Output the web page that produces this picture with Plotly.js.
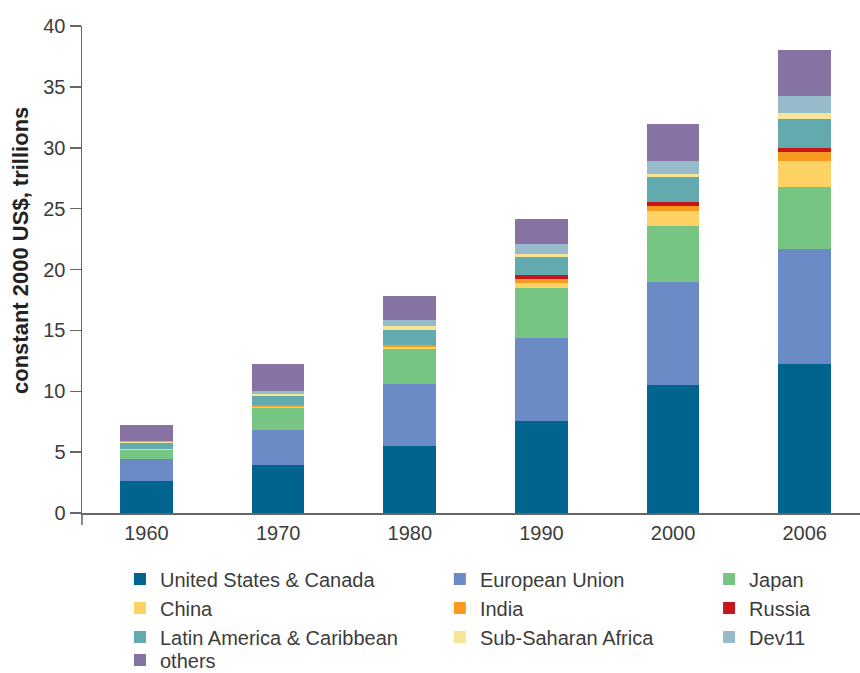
<!DOCTYPE html>
<html>
<head>
<meta charset="utf-8">
<script src="https://cdn.plot.ly/plotly-3.0.1.min.js"></script>
<style>html,body{margin:0;padding:0;background:#fff;}#chart{width:860px;height:673px;}</style>
</head>
<body>
<div id="chart"></div>
<script>
var years = ["1960", "1970", "1980", "1990", "2000", "2006"];

var usCanada      = [2.63, 3.94, 5.50, 7.56, 10.51, 12.24];
var europeanUnion = [1.81, 2.87, 5.09, 6.82, 8.46, 9.45];
var japan         = [0.74, 1.81, 2.87, 4.11, 4.60, 5.09];
var china         = [0.04, 0.11, 0.16, 0.41, 1.23, 2.14];
var india         = [0.05, 0.14, 0.16, 0.33, 0.41, 0.74];
var russia        = [0.00, 0.00, 0.00, 0.33, 0.33, 0.33];
var latinAmerica  = [0.49, 0.76, 1.23, 1.48, 2.05, 2.38];
var subSaharan    = [0.06, 0.16, 0.33, 0.25, 0.25, 0.49];
var dev11         = [0.06, 0.22, 0.49, 0.82, 1.07, 1.40];
var others        = [1.35, 2.22, 1.97, 2.05, 3.04, 3.78];

var seriesNames = ["United States & Canada", "European Union", "Japan", "China", "India", "Russia",
                   "Latin America & Caribbean", "Sub-Saharan Africa", "Dev11", "others"];
var seriesValues = [usCanada, europeanUnion, japan, china, india, russia, latinAmerica, subSaharan, dev11, others];
var seriesColors = ["#00648f", "#6b8bc6", "#77c583", "#fed264", "#f79b1f", "#c4161c",
                    "#63aaae", "#f6e596", "#98bbcb", "#8673a3"];
// legend column / row assignment (legend4 holds the last row)
var legendIds = ["legend", "legend2", "legend3", "legend", "legend2", "legend3",
                 "legend", "legend2", "legend3", "legend4"];
var yTitle = "constant 2000 US$, trillions";

var fontFamily = "Liberation Sans, Arial, sans-serif";
var textColor = "#3c3c3c";
var axisColor = "#666666";

var traces = seriesNames.map(function (name, i) {
  return {
    type: "bar",
    name: name,
    x: years,
    y: seriesValues[i],
    width: 0.4,
    marker: {color: seriesColors[i], line: {width: 0}},
    legend: legendIds[i],
    hoverinfo: "name+y"
  };
});

function legendAt(x, y) {
  return {
    orientation: "v",
    x: x, xanchor: "left",
    y: y, yanchor: "top",
    bgcolor: "rgba(0,0,0,0)",
    traceorder: "normal",
    tracegroupgap: 0,
    font: {family: fontFamily, size: 20, color: textColor}
  };
}

var layout = {
  width: 860,
  height: 673,
  margin: {l: 82, r: 0, t: 26, b: 160, autoexpand: false},
  barmode: "stack",
  paper_bgcolor: "#ffffff",
  plot_bgcolor: "#ffffff",
  font: {family: fontFamily, color: textColor, size: 20},
  showlegend: true,
  legend: legendAt(0.0488, -0.0955),
  legend2: legendAt(0.460, -0.0955),
  legend3: legendAt(0.806, -0.0955),
  legend4: legendAt(0.0488, -0.2618),
  xaxis: {
    type: "category",
    range: [-0.49, 5.42],
    showline: true,
    linecolor: axisColor,
    linewidth: 1.5,
    showgrid: false,
    zeroline: false,
    ticks: "",
    ticklabelstandoff: 1,
    tickfont: {family: fontFamily, size: 20, color: textColor},
    fixedrange: true
  },
  yaxis: {
    range: [0, 40],
    tickmode: "linear",
    tick0: 0,
    dtick: 5,
    showgrid: false,
    showline: true,
    linecolor: axisColor,
    linewidth: 1.5,
    ticks: "outside",
    ticklen: 11,
    tickwidth: 1.5,
    tickcolor: axisColor,
    zeroline: false,
    tickfont: {family: fontFamily, size: 20, color: textColor},
    fixedrange: true
  },
  annotations: [{
    text: "<b>" + yTitle + "</b>",
    xref: "paper", yref: "paper",
    x: -0.0784, y: 0.538,
    xanchor: "center", yanchor: "middle",
    textangle: -90,
    showarrow: false,
    font: {family: fontFamily, size: 22, color: "#222222"}
  }],
  shapes: [{
    type: "line",
    xref: "paper", yref: "paper",
    x0: 0, x1: 0, y0: 0, y1: -0.0246,
    line: {color: axisColor, width: 1.5},
    layer: "above"
  }]
};

Plotly.newPlot("chart", traces, layout, {displayModeBar: false, staticPlot: true});
</script>
</body>
</html>
